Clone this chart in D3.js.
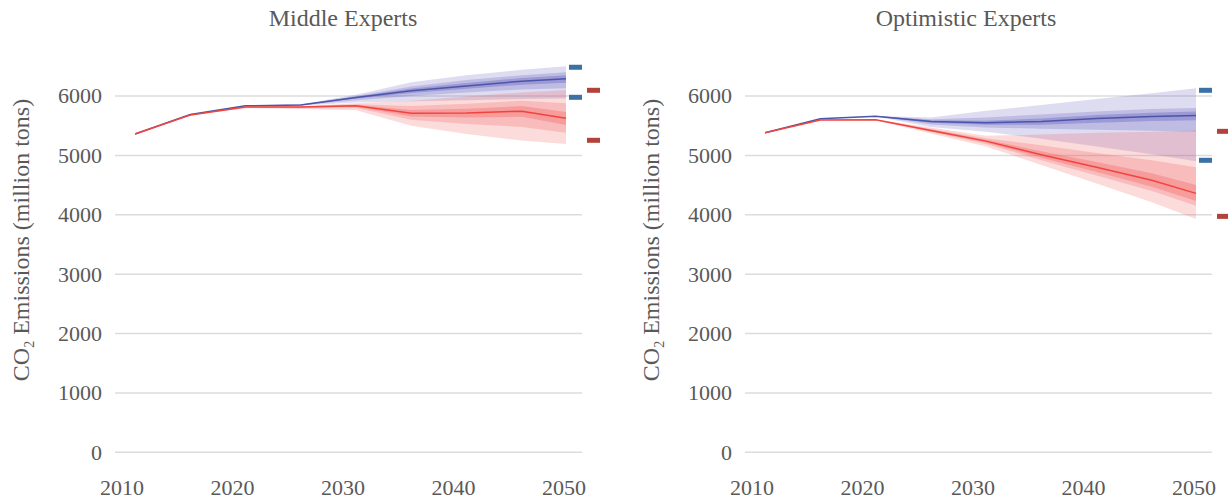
<!DOCTYPE html>
<html><head><meta charset="utf-8">
<script src="https://cdn.jsdelivr.net/npm/d3@7"></script>
<style>
html,body{margin:0;padding:0;background:#fff;}
svg{display:block;}
text{font-family:"Liberation Serif","DejaVu Serif",serif;fill:#595959;}
</style></head>
<body><svg id="c" width="1228" height="501"></svg>
<script>
// ---------- data ----------
const years = [2011, 2016, 2021, 2026, 2031, 2036, 2041, 2046, 2050];
const xTicks = [2010, 2020, 2030, 2040, 2050];
const yTicks = [0, 1000, 2000, 3000, 4000, 5000, 6000];
const panelTitles = ["Middle Experts", "Optimistic Experts"];
const yLabel = "CO";

// Middle Experts — blue series
const midBlue    = [5360, 5690, 5835, 5850, 5975, 6090, 6170, 6250, 6290];
const midBlueHi1 = [5360, 5690, 5840, 5860, 6020, 6230, 6350, 6440, 6500];
const midBlueLo1 = [5360, 5690, 5830, 5840, 5890, 5910, 5930, 5950, 5960];
const midBlueHi2 = [5360, 5690, 5838, 5855, 6000, 6160, 6270, 6350, 6400];
const midBlueLo2 = [5360, 5690, 5832, 5845, 5930, 6000, 6060, 6110, 6130];
const midBlueHi3 = [5360, 5690, 5836, 5852, 5988, 6125, 6220, 6305, 6350];
const midBlueLo3 = [5360, 5690, 5834, 5848, 5960, 6050, 6120, 6190, 6225];
// Middle Experts — red series
const midRed    = [5360, 5680, 5815, 5815, 5835, 5710, 5715, 5745, 5625];
const midRedHi1 = [5360, 5685, 5825, 5830, 5880, 5920, 5990, 6060, 6100];
const midRedLo1 = [5360, 5670, 5795, 5780, 5760, 5500, 5360, 5250, 5190];
const midRedHi2 = [5360, 5683, 5820, 5825, 5860, 5830, 5870, 5920, 5880];
const midRedLo2 = [5360, 5675, 5805, 5795, 5800, 5600, 5530, 5480, 5380];
const midRedHi3 = [5360, 5682, 5818, 5820, 5848, 5765, 5785, 5830, 5730];
const midRedLo3 = [5360, 5678, 5810, 5805, 5818, 5655, 5640, 5650, 5510];
// Optimistic Experts — blue series
const optBlue    = [5380, 5616, 5660, 5570, 5550, 5570, 5620, 5655, 5670];
const optBlueHi1 = [5380, 5616, 5665, 5640, 5750, 5850, 5950, 6045, 6130];
const optBlueLo1 = [5380, 5616, 5655, 5480, 5400, 5280, 5150, 5020, 4900];
const optBlueHi2 = [5380, 5616, 5663, 5610, 5640, 5690, 5740, 5780, 5800];
const optBlueLo2 = [5380, 5616, 5657, 5520, 5470, 5450, 5430, 5415, 5400];
const optBlueHi3 = [5380, 5616, 5662, 5590, 5585, 5620, 5680, 5720, 5740];
const optBlueLo3 = [5380, 5616, 5658, 5550, 5515, 5515, 5550, 5580, 5590];
// Optimistic Experts — red series
const optRed    = [5380, 5596, 5600, 5420, 5240, 5010, 4800, 4580, 4360];
const optRedHi1 = [5380, 5600, 5610, 5470, 5330, 5350, 5380, 5400, 5420];
const optRedLo1 = [5380, 5590, 5590, 5370, 5150, 4840, 4525, 4210, 3930];
const optRedHi2 = [5380, 5598, 5605, 5450, 5290, 5170, 5040, 4920, 4800];
const optRedLo2 = [5380, 5594, 5595, 5395, 5190, 4920, 4660, 4400, 4150];
const optRedHi3 = [5380, 5597, 5602, 5435, 5265, 5070, 4890, 4700, 4500];
const optRedLo3 = [5380, 5595, 5598, 5405, 5215, 4960, 4720, 4470, 4230];
// 2050 range markers
const midBlueMarks = [6484, 5978];
const midRedMarks  = [6096, 5254];
const optBlueMarks = [6096, 4917];
const optRedMarks  = [5405, 3973];

// ---------- drawing ----------
const svg = d3.select("#c");
const BLUE_FILL = "#6460bd", RED_FILL = "#f25a5a";
const BLUE_LINE = "#4a55ab", RED_LINE = "#f2433c";
const BLUE_MARK = "#3c71a3", RED_MARK = "#b3423c";
const blueOpac = [0.22, 0.26, 0.38];
const redOpac = [0.22, 0.24, 0.32];

const panels = [
  {dx: 0, title: panelTitles[0], titleX: 343,
   blue: {med: midBlue, bands: [[midBlueLo1, midBlueHi1],[midBlueLo2, midBlueHi2],[midBlueLo3, midBlueHi3]], marks: midBlueMarks},
   red:  {med: midRed,  bands: [[midRedLo1, midRedHi1],[midRedLo2, midRedHi2],[midRedLo3, midRedHi3]], marks: midRedMarks}},
  {dx: 630, title: panelTitles[1], titleX: 966,
   blue: {med: optBlue, bands: [[optBlueLo1, optBlueHi1],[optBlueLo2, optBlueHi2],[optBlueLo3, optBlueHi3]], marks: optBlueMarks},
   red:  {med: optRed,  bands: [[optRedLo1, optRedHi1],[optRedLo2, optRedHi2],[optRedLo3, optRedHi3]], marks: optRedMarks}}
];

const y = d3.scaleLinear().domain([0, 6000]).range([452.3, 96]);

panels.forEach(p => {
  const g = svg.append("g");
  const x = d3.scaleLinear().domain([2010, 2050]).range([124 + p.dx, 566 + p.dx]);
  const gx0 = 115 + p.dx, gx1 = 582 + p.dx;

  // gridlines
  g.selectAll(".grid").data(yTicks).join("line")
    .attr("x1", gx0).attr("x2", gx1)
    .attr("y1", d => y(d)).attr("y2", d => y(d))
    .attr("stroke", "#dcdcdc").attr("stroke-width", 1.5);

  // y tick labels
  g.selectAll(".yt").data(yTicks).join("text")
    .attr("x", 102 + p.dx).attr("y", d => y(d)).attr("dy", "0.34em")
    .attr("text-anchor", "end").attr("font-size", 22).text(d => d);

  // x tick labels
  g.selectAll(".xt").data(xTicks).join("text")
    .attr("x", d => x(d) - 2).attr("y", 488).attr("dy", "0.34em")
    .attr("text-anchor", "middle").attr("font-size", 22).text(d => d);

  // title
  g.append("text").attr("x", p.titleX).attr("y", 26)
    .attr("text-anchor", "middle").attr("font-size", 24).text(p.title);

  // y axis label
  const yl = g.append("text")
    .attr("transform", `translate(${29 + p.dx},240) rotate(-90)`)
    .attr("text-anchor", "middle").attr("font-size", 24);
  yl.append("tspan").text(yLabel);
  yl.append("tspan").attr("font-size", 14).attr("dy", 5).text("2");
  yl.append("tspan").attr("dy", -5).text(" Emissions (million tons)");

  const area = d3.area().x((d, i) => x(years[i])).y0(d => y(d[0])).y1(d => y(d[1]));
  const line = d3.line().x((d, i) => x(years[i])).y(d => y(d));

  [[p.blue, BLUE_FILL, blueOpac], [p.red, RED_FILL, redOpac]].forEach(([s, col, op]) => {
    s.bands.forEach((b, k) => {
      const pts = years.map((yr, i) => [b[0][i], b[1][i]]);
      g.append("path").attr("d", area(pts)).attr("fill", col).attr("fill-opacity", op[k]);
    });
  });
  [[p.blue, BLUE_LINE], [p.red, RED_LINE]].forEach(([s, col]) => {
    g.append("path").attr("d", line(s.med)).attr("fill", "none")
      .attr("stroke", col).attr("stroke-width", 1.5);
  });

  // range markers at 2050
  const xe = x(2050);
  g.selectAll(".bm").data(p.blue.marks).join("rect")
    .attr("x", xe + 3).attr("y", d => y(d) - 2.5).attr("width", 13).attr("height", 5).attr("fill", BLUE_MARK);
  g.selectAll(".rm").data(p.red.marks).join("rect")
    .attr("x", xe + 21).attr("y", d => y(d) - 2.5).attr("width", 13).attr("height", 5).attr("fill", RED_MARK);
});
</script></body></html>
